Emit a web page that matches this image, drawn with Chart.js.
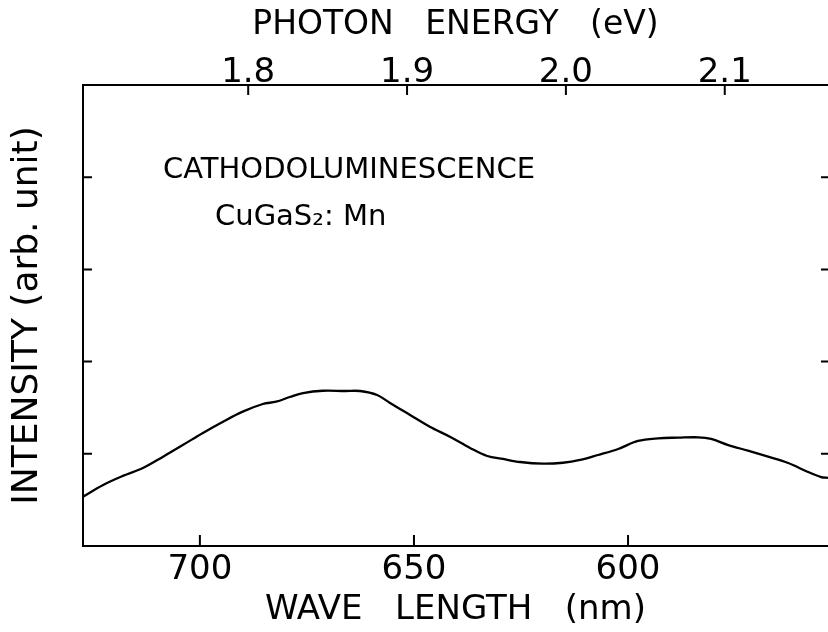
<!DOCTYPE html>
<html>
<head>
<meta charset="utf-8">
<script src="https://cdn.jsdelivr.net/npm/chart.js@4.4.0/dist/chart.umd.min.js"></script>
<style>
  html, body { margin: 0; padding: 0; background: #fff; overflow: hidden; }
  #wrap { width: 828px; height: 632px; position: relative; }
</style>
</head>
<body>
<div id="wrap"><canvas id="myChart"></canvas></div>
<script>
// spectrum (wavelength in nm, intensity in arb. units)
const wavelengths = [727.3, 722.7, 718.0, 713.3, 708.6, 704.0, 699.3, 694.6, 690.0, 685.3,
    682.2, 679.0, 675.9, 671.3, 666.1, 662.6, 658.6, 655.6, 650.9, 646.3,
    641.6, 636.9, 632.9, 629.2, 625.2, 619.9, 615.2, 611.2, 607.0, 602.3,
    597.7, 593.0, 588.3, 583.6, 580.6, 576.6, 572.0, 567.3, 562.6, 558.1,
    554.9, 553.3];
const intensity = [0.535, 0.66, 0.76, 0.846, 0.969, 1.095, 1.226, 1.348, 1.457, 1.540,
    1.565, 1.616, 1.659, 1.684, 1.681, 1.681, 1.638, 1.551, 1.421, 1.294,
    1.185, 1.063, 0.976, 0.944, 0.911, 0.893, 0.903, 0.933, 0.987, 1.052,
    1.139, 1.168, 1.175, 1.179, 1.161, 1.095, 1.034, 0.969, 0.900, 0.806,
    0.748, 0.738];

const wavelengthTicks = [700, 650, 600];
const energyTicks = [1.8, 1.9, 2.0, 2.1];
const intensityTicks = [1, 2, 3, 4];

const points = wavelengths.map((w, i) => ({ x: w, y: intensity[i] }));

const labelFont = { family: "DejaVu Sans", size: 34 };
const titleFont = { family: "DejaVu Sans", size: 33 };

// tick marks point into the plot, so draw them ourselves from the scales
const inwardTicks = {
    id: "inwardTicks",
    afterDatasetsDraw(chart) {
        const { ctx, chartArea: a, scales } = chart;
        ctx.save();
        ctx.strokeStyle = "#000";
        ctx.lineWidth = 2;
        ctx.beginPath();
        scales.x.ticks.forEach((t) => {
            const px = scales.x.getPixelForValue(t.value);
            ctx.moveTo(px, a.bottom);
            ctx.lineTo(px, a.bottom - 11);
        });
        scales.x2.ticks.forEach((t) => {
            const px = scales.x2.getPixelForValue(t.value);
            ctx.moveTo(px, a.top);
            ctx.lineTo(px, a.top + 10);
        });
        scales.y.ticks.forEach((t) => {
            const py = scales.y.getPixelForValue(t.value);
            ctx.moveTo(a.left, py);
            ctx.lineTo(a.left + 9, py);
            ctx.moveTo(a.right, py);
            ctx.lineTo(a.right - 7, py);
        });
        ctx.stroke();

        // sample label
        ctx.fillStyle = "#000";
        ctx.textBaseline = "alphabetic";
        ctx.textAlign = "left";
        ctx.font = "29px 'DejaVu Sans'";
        ctx.fillText("CATHODOLUMINESCENCE", a.left + 80, 178);
        ctx.fillText("CuGaS\u2082: Mn", a.left + 132, 225);
        ctx.restore();
    },
};

const ctx = document.getElementById("myChart").getContext("2d");

new Chart(ctx, {
    type: "line",
    data: {
        datasets: [
            {
                data: points,
                xAxisID: "x",
                yAxisID: "y",
                borderColor: "#000",
                borderWidth: 2.3,
                pointRadius: 0,
                tension: 0.35,
                fill: false,
            },
        ],
    },
    options: {
        responsive: true,
        maintainAspectRatio: false,
        animation: false,
        layout: { padding: 0 },
        plugins: {
            legend: { display: false },
            tooltip: { enabled: false },
        },
        scales: {
            x: {
                type: "linear",
                position: "bottom",
                reverse: true,
                min: 553.3,
                max: 727.3,
                afterBuildTicks: (s) => { s.ticks = wavelengthTicks.map((v) => ({ value: v })); },
                afterFit: (s) => { s.height = 86; },
                grid: { display: false, drawTicks: false },
                border: { display: true, color: "#000", width: 2 },
                ticks: { color: "#000", font: labelFont, padding: 4, maxRotation: 0 },
                title: {
                    display: true,
                    text: "WAVE   LENGTH   (nm)",
                    color: "#000",
                    font: { family: "DejaVu Sans", size: 34 },
                    padding: { top: 0, bottom: 1 },
                },
            },
            x2: {
                type: "linear",
                position: "top",
                min: 1.696,
                max: 2.165,
                afterBuildTicks: (s) => { s.ticks = energyTicks.map((v) => ({ value: v })); },
                afterFit: (s) => { s.height = 85; },
                grid: { display: false, drawTicks: false },
                border: { display: true, color: "#000", width: 2 },
                ticks: {
                    color: "#000",
                    font: labelFont,
                    padding: -9,
                    maxRotation: 0,
                    callback: (v) => v.toFixed(1),
                },
                title: {
                    display: true,
                    text: "PHOTON   ENERGY   (eV)",
                    color: "#000",
                    font: titleFont,
                    padding: { top: 6, bottom: 0 },
                },
            },
            y: {
                type: "linear",
                position: "left",
                min: 0,
                max: 5,
                afterBuildTicks: (s) => { s.ticks = intensityTicks.map((v) => ({ value: v })); },
                afterFit: (s) => { s.width = 83; },
                grid: { display: false, drawTicks: false },
                border: { display: true, color: "#000", width: 2 },
                ticks: { display: false },
                title: {
                    display: true,
                    text: "INTENSITY (arb. unit)",
                    color: "#000",
                    font: { family: "DejaVu Sans", size: 36 },
                    padding: { top: 6, bottom: 0 },
                },
            },
        },
    },
    plugins: [inwardTicks],
});
</script>
</body>
</html>
